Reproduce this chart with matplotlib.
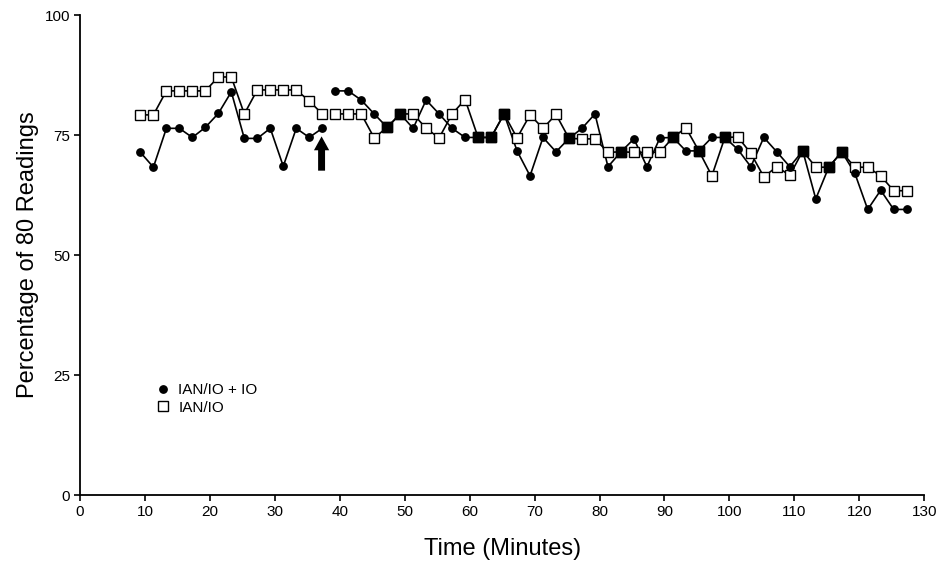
import numpy as np
import matplotlib
matplotlib.use('Agg')
import matplotlib.pyplot as plt
from matplotlib.lines import Line2D

plt.rcParams['font.family'] = ['Liberation Sans', 'DejaVu Sans']

#--------------------------------------------------- data
time_min = [9.3, 11.3, 13.3, 15.3, 17.3, 19.3, 21.3, 23.3, 25.3, 27.3, 29.3, 31.3, 33.3, 35.3, 37.3,
            39.3, 41.3, 43.3, 45.3, 47.3, 49.3, 51.3, 53.3, 55.3, 57.3, 59.3, 61.3, 63.3, 65.3, 67.3,
            69.3, 71.3, 73.3, 75.3, 77.3, 79.3, 81.3, 83.3, 85.3, 87.3, 89.3, 91.3, 93.3, 95.3, 97.3,
            99.3, 101.3, 103.3, 105.3, 107.3, 109.3, 111.3, 113.3, 115.3, 117.3, 119.3, 121.3, 123.3,
            125.3, 127.3]

ian_io_plus_io = [71.4, 68.3, 76.4, 76.4, 74.5, 76.6, 79.5, 84.0, 74.3, 74.3, 76.4, 68.5, 76.4, 74.5, 76.4,
                  84.2, 84.2, 82.3, 79.4, 76.6, 79.4, 76.4, 82.3, 79.4, 76.4, 74.5, 74.5, 74.5, 79.4, 71.7,
                  66.5, 74.5, 71.5, 74.3, 76.4, 79.4, 68.4, 71.5, 74.2, 68.4, 74.4, 74.5, 71.7, 71.7, 74.5,
                  74.5, 72.0, 68.4, 74.5, 71.5, 68.4, 71.7, 61.7, 68.3, 71.5, 67.1, 59.5, 63.5, 59.5, 59.5]

ian_io = [79.2, 79.2, 84.2, 84.2, 84.2, 84.2, 87.1, 87.1, 79.4, 84.4, 84.4, 84.4, 84.4, 82.1, 79.4,
          79.4, 79.4, 79.4, 74.4, 76.6, 79.4, 79.4, 76.4, 74.4, 79.4, 82.4, 74.5, 74.5, 79.4, 74.4,
          79.2, 76.4, 79.3, 74.3, 74.2, 74.2, 71.4, 71.5, 71.4, 71.4, 71.4, 74.5, 76.5, 71.7, 66.5,
          74.5, 74.6, 71.2, 66.3, 68.4, 66.6, 71.7, 68.3, 68.3, 71.5, 68.3, 68.3, 66.5, 63.4, 63.4]

n_pre = 15   # readings before the arrow (line is broken there)
arrow_time = 37.2

#--------------------------------------------------- figure
fig = plt.figure(figsize=(9.38, 5.62), dpi=100)
ax = fig.add_axes([0.0853, 0.1192, 0.900, 0.854])

t = np.array(time_min, dtype=float)
a = np.array(ian_io_plus_io)
b = np.array(ian_io)

for seg in (slice(0, n_pre), slice(n_pre, None)):
  ax.plot(t[seg], b[seg], '-', color='k', linewidth=1.2, zorder=2)
  ax.plot(t[seg], a[seg], '-', color='k', linewidth=1.2, zorder=2)

ax.plot(t, b, 's', markersize=7, markerfacecolor='white', markeredgecolor='k',
        markeredgewidth=1.0, linestyle='none', zorder=3)
ax.plot(t, a, 'o', markersize=5.3, color='k', linestyle='none', zorder=4)

# coincident readings shown as filled squares
same = np.isclose(a, b, atol=0.05)
ax.plot(t[same], a[same], 's', markersize=7, color='k', linestyle='none', zorder=5)

# arrow marking the change
ax.annotate('', xy=(arrow_time, 75.3), xytext=(arrow_time, 67.0),
            arrowprops=dict(arrowstyle='simple,head_width=1.1,head_length=1.0,tail_width=0.5',
                            color='k', lw=0), zorder=6)

ax.set_xlim(0, 130)
ax.set_ylim(0, 100)
ax.set_xticks(np.arange(0, 131, 10))
ax.set_yticks([0, 25, 50, 75, 100])
ax.spines['top'].set_visible(False)
ax.spines['right'].set_visible(False)
ax.spines['left'].set_linewidth(1.3)
ax.spines['bottom'].set_linewidth(1.3)
ax.tick_params(direction='out', length=4, width=1.2, labelsize=11, pad=3)

ax.set_xlabel('Time (Minutes)', fontsize=17, labelpad=14)
ax.set_ylabel('Percentage of 80 Readings', fontsize=17, labelpad=4)

lbl_a = Line2D([], [], marker='o', color='k', linestyle='none', markersize=5.3)
lbl_b = Line2D([], [], marker='s', markerfacecolor='white', markeredgecolor='k',
               markeredgewidth=1.0, linestyle='none', markersize=7)
ax.legend((lbl_a, lbl_b), ('IAN/IO + IO', 'IAN/IO'), loc=(0.082, 0.155), frameon=False,
          fontsize=11, handlelength=1.0, handletextpad=0.5, labelspacing=0.2)

fig.savefig('out.png', dpi=100)
